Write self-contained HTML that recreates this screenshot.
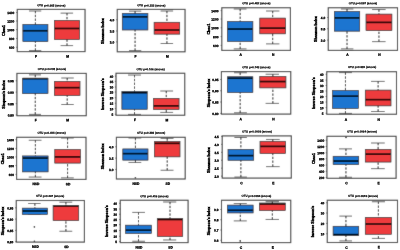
<!DOCTYPE html>
<html><head><meta charset="utf-8"><style>
html,body{margin:0;padding:0;background:#fff;width:400px;height:250px;overflow:hidden}
svg{display:block;will-change:transform}
text{font-family:"Liberation Sans", sans-serif;fill:#000}
</style></head><body>
<svg width="400" height="250" viewBox="0 0 400 250">
<defs><filter id="bl" x="0" y="0" width="400" height="250" filterUnits="userSpaceOnUse"><feConvolveMatrix order="3" kernelMatrix="0.015 0.065 0.015 0.065 0.68 0.065 0.015 0.065 0.015" edgeMode="duplicate"/></filter></defs>
<g filter="url(#bl)"><rect width="400" height="250" fill="#fff"/>
<line x1="35.39" y1="11.00" x2="35.39" y2="24.48" stroke="#000" stroke-width="0.9" stroke-dasharray="2.3 1.5"/>
<line x1="35.39" y1="50.60" x2="35.39" y2="41.59" stroke="#000" stroke-width="0.9" stroke-dasharray="2.3 1.5"/>
<line x1="29.00" y1="11.00" x2="41.25" y2="11.00" stroke="#000" stroke-width="0.6"/>
<line x1="29.00" y1="50.60" x2="41.25" y2="50.60" stroke="#000" stroke-width="0.6"/>
<rect x="22.88" y="24.48" width="25.03" height="17.11" fill="#1a74d0" stroke="#000" stroke-width="0.6"/>
<line x1="22.88" y1="30.75" x2="47.91" y2="30.75" stroke="#000" stroke-width="1.6"/>
<line x1="67.00" y1="13.13" x2="67.00" y2="20.38" stroke="#000" stroke-width="0.9" stroke-dasharray="2.3 1.5"/>
<line x1="67.00" y1="45.60" x2="67.00" y2="39.50" stroke="#000" stroke-width="0.9" stroke-dasharray="2.3 1.5"/>
<line x1="60.60" y1="13.13" x2="73.10" y2="13.13" stroke="#000" stroke-width="0.6"/>
<line x1="60.60" y1="45.60" x2="73.10" y2="45.60" stroke="#000" stroke-width="0.6"/>
<rect x="54.40" y="20.38" width="25.20" height="19.12" fill="#ee3b3e" stroke="#000" stroke-width="0.6"/>
<line x1="54.40" y1="28.48" x2="79.60" y2="28.48" stroke="#000" stroke-width="1.6"/>
<rect x="17.25" y="9.4" width="67.80" height="42.20" fill="none" stroke="#333" stroke-width="1.1"/>
<line x1="16.05" y1="12.5" x2="17.25" y2="12.5" stroke="#000" stroke-width="0.5"/>
<line x1="16.05" y1="21" x2="17.25" y2="21" stroke="#000" stroke-width="0.5"/>
<line x1="16.05" y1="29.6" x2="17.25" y2="29.6" stroke="#000" stroke-width="0.5"/>
<line x1="16.05" y1="38.5" x2="17.25" y2="38.5" stroke="#000" stroke-width="0.5"/>
<line x1="16.05" y1="47.25" x2="17.25" y2="47.25" stroke="#000" stroke-width="0.5"/>
<line x1="135.07" y1="11.15" x2="135.07" y2="13.29" stroke="#000" stroke-width="0.9" stroke-dasharray="2.3 1.5"/>
<line x1="135.07" y1="50.60" x2="135.07" y2="30.00" stroke="#000" stroke-width="0.9" stroke-dasharray="2.3 1.5"/>
<line x1="129.00" y1="11.15" x2="141.25" y2="11.15" stroke="#000" stroke-width="0.6"/>
<line x1="129.00" y1="50.60" x2="141.25" y2="50.60" stroke="#000" stroke-width="0.6"/>
<rect x="122.25" y="13.29" width="25.65" height="16.71" fill="#1a74d0" stroke="#000" stroke-width="0.6"/>
<line x1="122.25" y1="16.80" x2="147.90" y2="16.80" stroke="#000" stroke-width="1.6"/>
<line x1="166.93" y1="11.00" x2="166.93" y2="22.25" stroke="#000" stroke-width="0.9" stroke-dasharray="2.3 1.5"/>
<line x1="166.93" y1="43.50" x2="166.93" y2="34.13" stroke="#000" stroke-width="0.9" stroke-dasharray="2.3 1.5"/>
<line x1="160.60" y1="11.00" x2="173.10" y2="11.00" stroke="#000" stroke-width="0.6"/>
<line x1="160.60" y1="43.50" x2="173.10" y2="43.50" stroke="#000" stroke-width="0.6"/>
<rect x="154.10" y="22.25" width="25.65" height="11.88" fill="#ee3b3e" stroke="#000" stroke-width="0.6"/>
<line x1="154.10" y1="30.00" x2="179.75" y2="30.00" stroke="#000" stroke-width="1.6"/>
<rect x="117.25" y="9.4" width="67.80" height="42.40" fill="none" stroke="#333" stroke-width="1.1"/>
<line x1="116.05" y1="19.75" x2="117.25" y2="19.75" stroke="#000" stroke-width="0.5"/>
<line x1="116.05" y1="31" x2="117.25" y2="31" stroke="#000" stroke-width="0.5"/>
<line x1="116.05" y1="41.9" x2="117.25" y2="41.9" stroke="#000" stroke-width="0.5"/>
<line x1="240.17" y1="9.00" x2="240.17" y2="21.50" stroke="#000" stroke-width="0.9" stroke-dasharray="2.3 1.5"/>
<line x1="240.17" y1="48.88" x2="240.17" y2="41.38" stroke="#000" stroke-width="0.9" stroke-dasharray="2.3 1.5"/>
<line x1="233.75" y1="9.00" x2="246.50" y2="9.00" stroke="#000" stroke-width="0.6"/>
<line x1="233.75" y1="48.88" x2="246.50" y2="48.88" stroke="#000" stroke-width="0.6"/>
<rect x="227.46" y="21.50" width="25.42" height="19.88" fill="#1a74d0" stroke="#000" stroke-width="0.6"/>
<line x1="227.46" y1="29.06" x2="252.88" y2="29.06" stroke="#000" stroke-width="1.6"/>
<line x1="272.69" y1="11.00" x2="272.69" y2="18.10" stroke="#000" stroke-width="0.9" stroke-dasharray="2.3 1.5"/>
<line x1="272.69" y1="43.88" x2="272.69" y2="33.84" stroke="#000" stroke-width="0.9" stroke-dasharray="2.3 1.5"/>
<line x1="266.00" y1="11.00" x2="279.40" y2="11.00" stroke="#000" stroke-width="0.6"/>
<line x1="266.00" y1="43.88" x2="279.40" y2="43.88" stroke="#000" stroke-width="0.6"/>
<rect x="259.78" y="18.10" width="25.82" height="15.74" fill="#ee3b3e" stroke="#000" stroke-width="0.6"/>
<line x1="259.78" y1="28.13" x2="285.60" y2="28.13" stroke="#000" stroke-width="1.6"/>
<rect x="221.8" y="7.75" width="68.60" height="42.65" fill="none" stroke="#333" stroke-width="1.1"/>
<line x1="220.60" y1="10.6" x2="221.8" y2="10.6" stroke="#000" stroke-width="0.5"/>
<line x1="220.60" y1="19" x2="221.8" y2="19" stroke="#000" stroke-width="0.5"/>
<line x1="220.60" y1="27.75" x2="221.8" y2="27.75" stroke="#000" stroke-width="0.5"/>
<line x1="220.60" y1="36.6" x2="221.8" y2="36.6" stroke="#000" stroke-width="0.5"/>
<line x1="220.60" y1="45.4" x2="221.8" y2="45.4" stroke="#000" stroke-width="0.5"/>
<line x1="347.03" y1="9.02" x2="347.03" y2="11.52" stroke="#000" stroke-width="0.9" stroke-dasharray="2.3 1.5"/>
<line x1="347.03" y1="48.88" x2="347.03" y2="31.16" stroke="#000" stroke-width="0.9" stroke-dasharray="2.3 1.5"/>
<line x1="340.94" y1="9.02" x2="353.38" y2="9.02" stroke="#000" stroke-width="0.6"/>
<line x1="340.94" y1="48.88" x2="353.38" y2="48.88" stroke="#000" stroke-width="0.6"/>
<rect x="334.31" y="11.52" width="25.44" height="19.64" fill="#1a74d0" stroke="#000" stroke-width="0.6"/>
<line x1="334.31" y1="17.88" x2="359.75" y2="17.88" stroke="#000" stroke-width="1.6"/>
<line x1="378.95" y1="9.56" x2="378.95" y2="14.10" stroke="#000" stroke-width="0.9" stroke-dasharray="2.3 1.5"/>
<line x1="378.95" y1="41.63" x2="378.95" y2="30.63" stroke="#000" stroke-width="0.9" stroke-dasharray="2.3 1.5"/>
<line x1="372.00" y1="9.56" x2="385.60" y2="9.56" stroke="#000" stroke-width="0.6"/>
<line x1="372.00" y1="41.63" x2="385.60" y2="41.63" stroke="#000" stroke-width="0.6"/>
<rect x="366.00" y="14.10" width="25.90" height="16.53" fill="#ee3b3e" stroke="#000" stroke-width="0.6"/>
<line x1="366.00" y1="22.40" x2="391.90" y2="22.40" stroke="#000" stroke-width="1.6"/>
<rect x="328.25" y="7.75" width="69.25" height="42.65" fill="none" stroke="#333" stroke-width="1.1"/>
<line x1="327.05" y1="17.5" x2="328.25" y2="17.5" stroke="#000" stroke-width="0.5"/>
<line x1="327.05" y1="28.75" x2="328.25" y2="28.75" stroke="#000" stroke-width="0.5"/>
<line x1="327.05" y1="40.1" x2="328.25" y2="40.1" stroke="#000" stroke-width="0.5"/>
<line x1="35.25" y1="74.88" x2="35.25" y2="78.38" stroke="#000" stroke-width="0.9" stroke-dasharray="2.3 1.5"/>
<line x1="35.25" y1="114.38" x2="35.25" y2="93.62" stroke="#000" stroke-width="0.9" stroke-dasharray="2.3 1.5"/>
<line x1="29.00" y1="74.88" x2="41.00" y2="74.88" stroke="#000" stroke-width="0.6"/>
<line x1="29.00" y1="114.38" x2="41.00" y2="114.38" stroke="#000" stroke-width="0.6"/>
<rect x="22.50" y="78.38" width="25.50" height="15.24" fill="#1a74d0" stroke="#000" stroke-width="0.6"/>
<line x1="22.50" y1="78.60" x2="48.00" y2="78.60" stroke="#000" stroke-width="1.6"/>
<line x1="67.20" y1="78.00" x2="67.20" y2="81.40" stroke="#000" stroke-width="0.9" stroke-dasharray="2.3 1.5"/>
<line x1="67.20" y1="104.50" x2="67.20" y2="95.50" stroke="#000" stroke-width="0.9" stroke-dasharray="2.3 1.5"/>
<line x1="61.25" y1="78.00" x2="73.75" y2="78.00" stroke="#000" stroke-width="0.6"/>
<line x1="61.25" y1="104.50" x2="73.75" y2="104.50" stroke="#000" stroke-width="0.6"/>
<rect x="54.40" y="81.40" width="25.60" height="14.10" fill="#ee3b3e" stroke="#000" stroke-width="0.6"/>
<line x1="54.40" y1="87.63" x2="80.00" y2="87.63" stroke="#000" stroke-width="1.6"/>
<rect x="16.9" y="73.4" width="69.35" height="42.30" fill="none" stroke="#333" stroke-width="1.1"/>
<line x1="15.70" y1="80.75" x2="16.9" y2="80.75" stroke="#000" stroke-width="0.5"/>
<line x1="15.70" y1="92.1" x2="16.9" y2="92.1" stroke="#000" stroke-width="0.5"/>
<line x1="15.70" y1="103.6" x2="16.9" y2="103.6" stroke="#000" stroke-width="0.5"/>
<line x1="15.70" y1="114.9" x2="16.9" y2="114.9" stroke="#000" stroke-width="0.5"/>
<line x1="134.53" y1="75.06" x2="134.53" y2="91.38" stroke="#000" stroke-width="0.9" stroke-dasharray="2.3 1.5"/>
<line x1="134.53" y1="114.38" x2="134.53" y2="109.25" stroke="#000" stroke-width="0.9" stroke-dasharray="2.3 1.5"/>
<line x1="128.00" y1="75.06" x2="141.00" y2="75.06" stroke="#000" stroke-width="0.6"/>
<line x1="128.00" y1="114.38" x2="141.00" y2="114.38" stroke="#000" stroke-width="0.6"/>
<rect x="121.88" y="91.38" width="25.31" height="17.87" fill="#1a74d0" stroke="#000" stroke-width="0.6"/>
<line x1="121.88" y1="92.69" x2="147.19" y2="92.69" stroke="#000" stroke-width="1.6"/>
<line x1="166.26" y1="91.00" x2="166.26" y2="98.40" stroke="#000" stroke-width="0.9" stroke-dasharray="2.3 1.5"/>
<line x1="166.26" y1="112.40" x2="166.26" y2="109.52" stroke="#000" stroke-width="0.9" stroke-dasharray="2.3 1.5"/>
<line x1="160.25" y1="91.00" x2="173.10" y2="91.00" stroke="#000" stroke-width="0.6"/>
<line x1="160.25" y1="112.40" x2="173.10" y2="112.40" stroke="#000" stroke-width="0.6"/>
<rect x="153.48" y="98.40" width="25.56" height="11.12" fill="#ee3b3e" stroke="#000" stroke-width="0.6"/>
<line x1="153.48" y1="105.88" x2="179.04" y2="105.88" stroke="#000" stroke-width="1.6"/>
<rect x="116.0" y="73.25" width="68.75" height="42.00" fill="none" stroke="#333" stroke-width="1.1"/>
<line x1="114.80" y1="76.1" x2="116.0" y2="76.1" stroke="#000" stroke-width="0.5"/>
<line x1="114.80" y1="81.4" x2="116.0" y2="81.4" stroke="#000" stroke-width="0.5"/>
<line x1="114.80" y1="87" x2="116.0" y2="87" stroke="#000" stroke-width="0.5"/>
<line x1="114.80" y1="92" x2="116.0" y2="92" stroke="#000" stroke-width="0.5"/>
<line x1="114.80" y1="97.75" x2="116.0" y2="97.75" stroke="#000" stroke-width="0.5"/>
<line x1="114.80" y1="103.25" x2="116.0" y2="103.25" stroke="#000" stroke-width="0.5"/>
<line x1="114.80" y1="108.6" x2="116.0" y2="108.6" stroke="#000" stroke-width="0.5"/>
<line x1="114.80" y1="114.25" x2="116.0" y2="114.25" stroke="#000" stroke-width="0.5"/>
<line x1="240.17" y1="72.75" x2="240.17" y2="76.75" stroke="#000" stroke-width="0.9" stroke-dasharray="2.3 1.5"/>
<line x1="240.17" y1="112.78" x2="240.17" y2="92.50" stroke="#000" stroke-width="0.9" stroke-dasharray="2.3 1.5"/>
<line x1="234.00" y1="72.75" x2="246.90" y2="72.75" stroke="#000" stroke-width="0.6"/>
<line x1="234.00" y1="112.78" x2="246.90" y2="112.78" stroke="#000" stroke-width="0.6"/>
<rect x="227.46" y="76.75" width="25.42" height="15.75" fill="#1a74d0" stroke="#000" stroke-width="0.6"/>
<line x1="227.46" y1="78.25" x2="252.88" y2="78.25" stroke="#000" stroke-width="1.6"/>
<line x1="272.86" y1="74.25" x2="272.86" y2="76.40" stroke="#000" stroke-width="0.9" stroke-dasharray="2.3 1.5"/>
<line x1="272.86" y1="103.38" x2="272.86" y2="87.90" stroke="#000" stroke-width="0.9" stroke-dasharray="2.3 1.5"/>
<line x1="265.60" y1="74.25" x2="279.00" y2="74.25" stroke="#000" stroke-width="0.6"/>
<line x1="265.60" y1="103.38" x2="279.00" y2="103.38" stroke="#000" stroke-width="0.6"/>
<rect x="259.78" y="76.40" width="26.16" height="11.50" fill="#ee3b3e" stroke="#000" stroke-width="0.6"/>
<line x1="259.78" y1="81.56" x2="285.94" y2="81.56" stroke="#000" stroke-width="1.6"/>
<rect x="221.4" y="71.6" width="69.35" height="42.50" fill="none" stroke="#333" stroke-width="1.1"/>
<line x1="220.20" y1="79.5" x2="221.4" y2="79.5" stroke="#000" stroke-width="0.5"/>
<line x1="220.20" y1="90.75" x2="221.4" y2="90.75" stroke="#000" stroke-width="0.5"/>
<line x1="220.20" y1="102" x2="221.4" y2="102" stroke="#000" stroke-width="0.5"/>
<line x1="220.20" y1="113.4" x2="221.4" y2="113.4" stroke="#000" stroke-width="0.5"/>
<line x1="345.44" y1="72.62" x2="345.44" y2="90.62" stroke="#000" stroke-width="0.9" stroke-dasharray="2.3 1.5"/>
<line x1="345.44" y1="113.38" x2="345.44" y2="108.40" stroke="#000" stroke-width="0.9" stroke-dasharray="2.3 1.5"/>
<line x1="339.00" y1="72.62" x2="352.00" y2="72.62" stroke="#000" stroke-width="0.6"/>
<line x1="339.00" y1="113.38" x2="352.00" y2="113.38" stroke="#000" stroke-width="0.6"/>
<rect x="332.50" y="90.62" width="25.87" height="17.78" fill="#1a74d0" stroke="#000" stroke-width="0.6"/>
<line x1="332.50" y1="96.16" x2="358.37" y2="96.16" stroke="#000" stroke-width="1.6"/>
<line x1="378.12" y1="81.38" x2="378.12" y2="90.10" stroke="#000" stroke-width="0.9" stroke-dasharray="2.3 1.5"/>
<line x1="378.12" y1="111.50" x2="378.12" y2="105.88" stroke="#000" stroke-width="0.9" stroke-dasharray="2.3 1.5"/>
<line x1="371.00" y1="81.38" x2="384.75" y2="81.38" stroke="#000" stroke-width="0.6"/>
<line x1="371.00" y1="111.50" x2="384.75" y2="111.50" stroke="#000" stroke-width="0.6"/>
<rect x="365.25" y="90.10" width="25.75" height="15.78" fill="#ee3b3e" stroke="#000" stroke-width="0.6"/>
<line x1="365.25" y1="99.63" x2="391.00" y2="99.63" stroke="#000" stroke-width="1.6"/>
<rect x="326.75" y="71.7" width="69.75" height="42.55" fill="none" stroke="#333" stroke-width="1.1"/>
<line x1="325.55" y1="74.25" x2="326.75" y2="74.25" stroke="#000" stroke-width="0.5"/>
<line x1="325.55" y1="80.1" x2="326.75" y2="80.1" stroke="#000" stroke-width="0.5"/>
<line x1="325.55" y1="85.5" x2="326.75" y2="85.5" stroke="#000" stroke-width="0.5"/>
<line x1="325.55" y1="91" x2="326.75" y2="91" stroke="#000" stroke-width="0.5"/>
<line x1="325.55" y1="96.5" x2="326.75" y2="96.5" stroke="#000" stroke-width="0.5"/>
<line x1="325.55" y1="102" x2="326.75" y2="102" stroke="#000" stroke-width="0.5"/>
<line x1="325.55" y1="107.6" x2="326.75" y2="107.6" stroke="#000" stroke-width="0.5"/>
<line x1="325.55" y1="113.25" x2="326.75" y2="113.25" stroke="#000" stroke-width="0.5"/>
<line x1="35.37" y1="140.25" x2="35.37" y2="155.94" stroke="#000" stroke-width="0.9" stroke-dasharray="2.3 1.5"/>
<line x1="35.37" y1="177.06" x2="35.37" y2="171.89" stroke="#000" stroke-width="0.9" stroke-dasharray="2.3 1.5"/>
<line x1="28.75" y1="140.25" x2="41.50" y2="140.25" stroke="#000" stroke-width="0.6"/>
<line x1="28.75" y1="177.06" x2="41.50" y2="177.06" stroke="#000" stroke-width="0.6"/>
<rect x="22.63" y="155.94" width="25.47" height="15.95" fill="#1a74d0" stroke="#000" stroke-width="0.6"/>
<line x1="22.63" y1="158.13" x2="48.10" y2="158.13" stroke="#000" stroke-width="1.6"/>
<line x1="67.58" y1="138.02" x2="67.58" y2="149.60" stroke="#000" stroke-width="0.9" stroke-dasharray="2.3 1.5"/>
<line x1="67.58" y1="177.88" x2="67.58" y2="163.10" stroke="#000" stroke-width="0.9" stroke-dasharray="2.3 1.5"/>
<line x1="61.00" y1="138.02" x2="73.75" y2="138.02" stroke="#000" stroke-width="0.6"/>
<line x1="61.00" y1="177.88" x2="73.75" y2="177.88" stroke="#000" stroke-width="0.6"/>
<rect x="54.78" y="149.60" width="25.60" height="13.50" fill="#ee3b3e" stroke="#000" stroke-width="0.6"/>
<line x1="54.78" y1="156.90" x2="80.38" y2="156.90" stroke="#000" stroke-width="1.6"/>
<rect x="16.6" y="137.3" width="69.40" height="42.10" fill="none" stroke="#333" stroke-width="1.1"/>
<line x1="15.40" y1="139.6" x2="16.6" y2="139.6" stroke="#000" stroke-width="0.5"/>
<line x1="15.40" y1="148.4" x2="16.6" y2="148.4" stroke="#000" stroke-width="0.5"/>
<line x1="15.40" y1="156.9" x2="16.6" y2="156.9" stroke="#000" stroke-width="0.5"/>
<line x1="15.40" y1="165.6" x2="16.6" y2="165.6" stroke="#000" stroke-width="0.5"/>
<line x1="15.40" y1="174.4" x2="16.6" y2="174.4" stroke="#000" stroke-width="0.5"/>
<line x1="135.41" y1="138.00" x2="135.41" y2="148.94" stroke="#000" stroke-width="0.9" stroke-dasharray="2.3 1.5"/>
<line x1="135.41" y1="162.46" x2="135.41" y2="160.13" stroke="#000" stroke-width="0.9" stroke-dasharray="2.3 1.5"/>
<line x1="128.50" y1="138.00" x2="141.25" y2="138.00" stroke="#000" stroke-width="0.6"/>
<line x1="128.50" y1="162.46" x2="141.25" y2="162.46" stroke="#000" stroke-width="0.6"/>
<rect x="122.81" y="148.94" width="25.19" height="11.19" fill="#1a74d0" stroke="#000" stroke-width="0.6"/>
<line x1="122.81" y1="153.63" x2="148.00" y2="153.63" stroke="#000" stroke-width="1.6"/>
<line x1="167.20" y1="138.40" x2="167.20" y2="141.50" stroke="#000" stroke-width="0.9" stroke-dasharray="2.3 1.5"/>
<line x1="167.20" y1="170.25" x2="167.20" y2="156.88" stroke="#000" stroke-width="0.9" stroke-dasharray="2.3 1.5"/>
<line x1="160.60" y1="138.40" x2="173.50" y2="138.40" stroke="#000" stroke-width="0.6"/>
<line x1="160.60" y1="170.25" x2="173.50" y2="170.25" stroke="#000" stroke-width="0.6"/>
<rect x="154.40" y="141.50" width="25.60" height="15.38" fill="#ee3b3e" stroke="#000" stroke-width="0.6"/>
<line x1="154.40" y1="143.38" x2="180.00" y2="143.38" stroke="#000" stroke-width="1.6"/>
<circle cx="135.4" cy="177.75" r="0.8" fill="#000"/>
<rect x="116.4" y="137.3" width="68.80" height="41.70" fill="none" stroke="#333" stroke-width="1.1"/>
<line x1="115.20" y1="146.75" x2="116.4" y2="146.75" stroke="#000" stroke-width="0.5"/>
<line x1="115.20" y1="158.1" x2="116.4" y2="158.1" stroke="#000" stroke-width="0.5"/>
<line x1="115.20" y1="169.4" x2="116.4" y2="169.4" stroke="#000" stroke-width="0.5"/>
<line x1="240.88" y1="137.50" x2="240.88" y2="149.40" stroke="#000" stroke-width="0.9" stroke-dasharray="2.3 1.5"/>
<line x1="240.88" y1="177.06" x2="240.88" y2="160.25" stroke="#000" stroke-width="0.9" stroke-dasharray="2.3 1.5"/>
<line x1="234.40" y1="137.50" x2="246.90" y2="137.50" stroke="#000" stroke-width="0.6"/>
<line x1="234.40" y1="177.06" x2="246.90" y2="177.06" stroke="#000" stroke-width="0.6"/>
<rect x="228.00" y="149.40" width="25.75" height="10.85" fill="#1a74d0" stroke="#000" stroke-width="0.6"/>
<line x1="228.00" y1="155.60" x2="253.75" y2="155.60" stroke="#000" stroke-width="1.6"/>
<line x1="272.80" y1="139.44" x2="272.80" y2="141.25" stroke="#000" stroke-width="0.9" stroke-dasharray="2.3 1.5"/>
<line x1="272.80" y1="166.63" x2="272.80" y2="153.48" stroke="#000" stroke-width="0.9" stroke-dasharray="2.3 1.5"/>
<line x1="266.00" y1="139.44" x2="279.70" y2="139.44" stroke="#000" stroke-width="0.6"/>
<line x1="266.00" y1="166.63" x2="279.70" y2="166.63" stroke="#000" stroke-width="0.6"/>
<rect x="260.00" y="141.25" width="25.60" height="12.23" fill="#ee3b3e" stroke="#000" stroke-width="0.6"/>
<line x1="260.00" y1="146.40" x2="285.60" y2="146.40" stroke="#000" stroke-width="1.6"/>
<rect x="222.2" y="135.9" width="69.10" height="42.20" fill="none" stroke="#333" stroke-width="1.1"/>
<line x1="221.00" y1="136.4" x2="222.2" y2="136.4" stroke="#000" stroke-width="0.5"/>
<line x1="221.00" y1="144.35" x2="222.2" y2="144.35" stroke="#000" stroke-width="0.5"/>
<line x1="221.00" y1="152.3" x2="222.2" y2="152.3" stroke="#000" stroke-width="0.5"/>
<line x1="221.00" y1="160.25" x2="222.2" y2="160.25" stroke="#000" stroke-width="0.5"/>
<line x1="221.00" y1="168.2" x2="222.2" y2="168.2" stroke="#000" stroke-width="0.5"/>
<line x1="221.00" y1="176.15" x2="222.2" y2="176.15" stroke="#000" stroke-width="0.5"/>
<line x1="345.94" y1="148.88" x2="345.94" y2="156.25" stroke="#000" stroke-width="0.9" stroke-dasharray="2.3 1.5"/>
<line x1="345.94" y1="177.25" x2="345.94" y2="164.59" stroke="#000" stroke-width="0.9" stroke-dasharray="2.3 1.5"/>
<line x1="339.00" y1="148.88" x2="352.00" y2="148.88" stroke="#000" stroke-width="0.6"/>
<line x1="339.00" y1="177.25" x2="352.00" y2="177.25" stroke="#000" stroke-width="0.6"/>
<rect x="333.13" y="156.25" width="25.62" height="8.34" fill="#1a74d0" stroke="#000" stroke-width="0.6"/>
<line x1="333.13" y1="161.06" x2="358.75" y2="161.06" stroke="#000" stroke-width="1.6"/>
<line x1="378.12" y1="143.00" x2="378.12" y2="149.40" stroke="#000" stroke-width="0.9" stroke-dasharray="2.3 1.5"/>
<line x1="378.12" y1="168.66" x2="378.12" y2="162.06" stroke="#000" stroke-width="0.9" stroke-dasharray="2.3 1.5"/>
<line x1="371.00" y1="143.00" x2="384.75" y2="143.00" stroke="#000" stroke-width="0.6"/>
<line x1="371.00" y1="168.66" x2="384.75" y2="168.66" stroke="#000" stroke-width="0.6"/>
<rect x="365.25" y="149.40" width="25.75" height="12.66" fill="#ee3b3e" stroke="#000" stroke-width="0.6"/>
<line x1="365.25" y1="154.13" x2="391.00" y2="154.13" stroke="#000" stroke-width="1.6"/>
<circle cx="346" cy="137.5" r="0.8" fill="#000"/>
<rect x="326.9" y="136.3" width="69.20" height="42.00" fill="none" stroke="#333" stroke-width="1.1"/>
<line x1="325.70" y1="140.25" x2="326.9" y2="140.25" stroke="#000" stroke-width="0.5"/>
<line x1="325.70" y1="146.5" x2="326.9" y2="146.5" stroke="#000" stroke-width="0.5"/>
<line x1="325.70" y1="152.75" x2="326.9" y2="152.75" stroke="#000" stroke-width="0.5"/>
<line x1="325.70" y1="158.75" x2="326.9" y2="158.75" stroke="#000" stroke-width="0.5"/>
<line x1="325.70" y1="165" x2="326.9" y2="165" stroke="#000" stroke-width="0.5"/>
<line x1="325.70" y1="171.25" x2="326.9" y2="171.25" stroke="#000" stroke-width="0.5"/>
<line x1="325.70" y1="177.5" x2="326.9" y2="177.5" stroke="#000" stroke-width="0.5"/>
<line x1="34.88" y1="203.50" x2="34.88" y2="208.13" stroke="#000" stroke-width="0.9" stroke-dasharray="2.3 1.5"/>
<line x1="34.88" y1="214.40" x2="34.88" y2="214.40" stroke="#000" stroke-width="0.9" stroke-dasharray="2.3 1.5"/>
<line x1="28.10" y1="203.50" x2="40.60" y2="203.50" stroke="#000" stroke-width="0.6"/>
<line x1="28.10" y1="214.40" x2="40.60" y2="214.40" stroke="#000" stroke-width="0.6"/>
<rect x="22.25" y="208.13" width="25.25" height="6.27" fill="#1a74d0" stroke="#000" stroke-width="0.6"/>
<line x1="22.25" y1="210.98" x2="47.50" y2="210.98" stroke="#000" stroke-width="1.6"/>
<line x1="65.92" y1="202.19" x2="65.92" y2="205.50" stroke="#000" stroke-width="0.9" stroke-dasharray="2.3 1.5"/>
<line x1="65.92" y1="231.25" x2="65.92" y2="220.50" stroke="#000" stroke-width="0.9" stroke-dasharray="2.3 1.5"/>
<line x1="59.40" y1="202.19" x2="72.25" y2="202.19" stroke="#000" stroke-width="0.6"/>
<line x1="59.40" y1="231.25" x2="72.25" y2="231.25" stroke="#000" stroke-width="0.6"/>
<rect x="53.10" y="205.50" width="25.65" height="15.00" fill="#ee3b3e" stroke="#000" stroke-width="0.6"/>
<line x1="53.10" y1="206.00" x2="78.75" y2="206.00" stroke="#000" stroke-width="1.6"/>
<circle cx="34.4" cy="226.9" r="0.8" fill="#000"/>
<circle cx="34.4" cy="241.25" r="0.8" fill="#000"/>
<rect x="16.25" y="200.5" width="68.15" height="41.60" fill="none" stroke="#333" stroke-width="1.1"/>
<line x1="15.05" y1="207.8" x2="16.25" y2="207.8" stroke="#000" stroke-width="0.5"/>
<line x1="15.05" y1="219.1" x2="16.25" y2="219.1" stroke="#000" stroke-width="0.5"/>
<line x1="15.05" y1="230.4" x2="16.25" y2="230.4" stroke="#000" stroke-width="0.5"/>
<line x1="15.05" y1="241.7" x2="16.25" y2="241.7" stroke="#000" stroke-width="0.5"/>
<line x1="138.49" y1="212.40" x2="138.49" y2="225.16" stroke="#000" stroke-width="0.9" stroke-dasharray="2.3 1.5"/>
<line x1="138.49" y1="241.25" x2="138.49" y2="233.40" stroke="#000" stroke-width="0.9" stroke-dasharray="2.3 1.5"/>
<line x1="132.25" y1="212.40" x2="145.00" y2="212.40" stroke="#000" stroke-width="0.6"/>
<line x1="132.25" y1="241.25" x2="145.00" y2="241.25" stroke="#000" stroke-width="0.6"/>
<rect x="125.60" y="225.16" width="25.78" height="8.24" fill="#1a74d0" stroke="#000" stroke-width="0.6"/>
<line x1="125.60" y1="230.19" x2="151.38" y2="230.19" stroke="#000" stroke-width="1.6"/>
<line x1="170.00" y1="202.00" x2="170.00" y2="218.44" stroke="#000" stroke-width="0.9" stroke-dasharray="2.3 1.5"/>
<line x1="170.00" y1="239.98" x2="170.00" y2="236.50" stroke="#000" stroke-width="0.9" stroke-dasharray="2.3 1.5"/>
<line x1="163.10" y1="202.00" x2="176.25" y2="202.00" stroke="#000" stroke-width="0.6"/>
<line x1="163.10" y1="239.98" x2="176.25" y2="239.98" stroke="#000" stroke-width="0.6"/>
<rect x="157.25" y="218.44" width="25.50" height="18.06" fill="#ee3b3e" stroke="#000" stroke-width="0.6"/>
<line x1="157.25" y1="219.50" x2="182.75" y2="219.50" stroke="#000" stroke-width="1.6"/>
<rect x="120.25" y="200.25" width="67.85" height="42.35" fill="none" stroke="#333" stroke-width="1.1"/>
<line x1="119.05" y1="203.25" x2="120.25" y2="203.25" stroke="#000" stroke-width="0.5"/>
<line x1="119.05" y1="209" x2="120.25" y2="209" stroke="#000" stroke-width="0.5"/>
<line x1="119.05" y1="214.25" x2="120.25" y2="214.25" stroke="#000" stroke-width="0.5"/>
<line x1="119.05" y1="219.5" x2="120.25" y2="219.5" stroke="#000" stroke-width="0.5"/>
<line x1="119.05" y1="224.6" x2="120.25" y2="224.6" stroke="#000" stroke-width="0.5"/>
<line x1="119.05" y1="230.5" x2="120.25" y2="230.5" stroke="#000" stroke-width="0.5"/>
<line x1="119.05" y1="236.25" x2="120.25" y2="236.25" stroke="#000" stroke-width="0.5"/>
<line x1="119.05" y1="241.5" x2="120.25" y2="241.5" stroke="#000" stroke-width="0.5"/>
<line x1="240.30" y1="203.56" x2="240.30" y2="205.09" stroke="#000" stroke-width="0.9" stroke-dasharray="2.3 1.5"/>
<line x1="240.30" y1="220.90" x2="240.30" y2="212.94" stroke="#000" stroke-width="0.9" stroke-dasharray="2.3 1.5"/>
<line x1="233.75" y1="203.56" x2="246.75" y2="203.56" stroke="#000" stroke-width="0.6"/>
<line x1="233.75" y1="220.90" x2="246.75" y2="220.90" stroke="#000" stroke-width="0.6"/>
<rect x="227.46" y="205.09" width="25.67" height="7.85" fill="#1a74d0" stroke="#000" stroke-width="0.6"/>
<line x1="227.46" y1="210.28" x2="253.13" y2="210.28" stroke="#000" stroke-width="1.6"/>
<line x1="272.32" y1="201.69" x2="272.32" y2="203.00" stroke="#000" stroke-width="0.9" stroke-dasharray="2.3 1.5"/>
<line x1="272.32" y1="219.44" x2="272.32" y2="210.50" stroke="#000" stroke-width="0.9" stroke-dasharray="2.3 1.5"/>
<line x1="265.60" y1="201.69" x2="279.00" y2="201.69" stroke="#000" stroke-width="0.6"/>
<line x1="265.60" y1="219.44" x2="279.00" y2="219.44" stroke="#000" stroke-width="0.6"/>
<rect x="259.40" y="203.00" width="25.85" height="7.50" fill="#ee3b3e" stroke="#000" stroke-width="0.6"/>
<line x1="259.40" y1="204.00" x2="285.25" y2="204.00" stroke="#000" stroke-width="1.6"/>
<circle cx="240.25" cy="240.9" r="0.8" fill="#000"/>
<rect x="221.5" y="200.25" width="69.25" height="42.35" fill="none" stroke="#333" stroke-width="1.1"/>
<line x1="220.30" y1="209.5" x2="221.5" y2="209.5" stroke="#000" stroke-width="0.5"/>
<line x1="220.30" y1="219.75" x2="221.5" y2="219.75" stroke="#000" stroke-width="0.5"/>
<line x1="220.30" y1="230" x2="221.5" y2="230" stroke="#000" stroke-width="0.5"/>
<line x1="220.30" y1="240.25" x2="221.5" y2="240.25" stroke="#000" stroke-width="0.5"/>
<line x1="345.93" y1="216.10" x2="345.93" y2="226.25" stroke="#000" stroke-width="0.9" stroke-dasharray="2.3 1.5"/>
<line x1="345.93" y1="240.90" x2="345.93" y2="235.60" stroke="#000" stroke-width="0.9" stroke-dasharray="2.3 1.5"/>
<line x1="339.40" y1="216.10" x2="352.00" y2="216.10" stroke="#000" stroke-width="0.6"/>
<line x1="339.40" y1="240.90" x2="352.00" y2="240.90" stroke="#000" stroke-width="0.6"/>
<rect x="333.10" y="226.25" width="25.65" height="9.35" fill="#1a74d0" stroke="#000" stroke-width="0.6"/>
<line x1="333.10" y1="234.60" x2="358.75" y2="234.60" stroke="#000" stroke-width="1.6"/>
<line x1="378.38" y1="201.75" x2="378.38" y2="217.40" stroke="#000" stroke-width="0.9" stroke-dasharray="2.3 1.5"/>
<line x1="378.38" y1="238.40" x2="378.38" y2="234.25" stroke="#000" stroke-width="0.9" stroke-dasharray="2.3 1.5"/>
<line x1="371.90" y1="201.75" x2="385.00" y2="201.75" stroke="#000" stroke-width="0.6"/>
<line x1="371.90" y1="238.40" x2="385.00" y2="238.40" stroke="#000" stroke-width="0.6"/>
<rect x="365.25" y="217.40" width="26.25" height="16.85" fill="#ee3b3e" stroke="#000" stroke-width="0.6"/>
<line x1="365.25" y1="224.00" x2="391.50" y2="224.00" stroke="#000" stroke-width="1.6"/>
<rect x="327.25" y="200.25" width="70.25" height="42.25" fill="none" stroke="#333" stroke-width="1.1"/>
<line x1="326.05" y1="202.75" x2="327.25" y2="202.75" stroke="#000" stroke-width="0.5"/>
<line x1="326.05" y1="213" x2="327.25" y2="213" stroke="#000" stroke-width="0.5"/>
<line x1="326.05" y1="223.4" x2="327.25" y2="223.4" stroke="#000" stroke-width="0.5"/>
<line x1="326.05" y1="233.75" x2="327.25" y2="233.75" stroke="#000" stroke-width="0.5"/>

</g>
<text x="14.30" y="14.12" font-size="3.2" text-anchor="end" font-weight="bold" stroke="#000" stroke-width="0.3" transform="rotate(0.1 14.30 13.00)">1400</text>
<text x="14.30" y="22.62" font-size="3.2" text-anchor="end" font-weight="bold" stroke="#000" stroke-width="0.3" transform="rotate(0.1 14.30 21.50)">1200</text>
<text x="14.30" y="31.22" font-size="3.2" text-anchor="end" font-weight="bold" stroke="#000" stroke-width="0.3" transform="rotate(0.1 14.30 30.10)">1000</text>
<text x="14.30" y="40.12" font-size="3.2" text-anchor="end" font-weight="bold" stroke="#000" stroke-width="0.3" transform="rotate(0.1 14.30 39.00)">800</text>
<text x="14.30" y="48.87" font-size="3.2" text-anchor="end" font-weight="bold" stroke="#000" stroke-width="0.3" transform="rotate(0.1 14.30 47.75)">600</text>
<text x="35.94" y="57.45" font-size="3.3" text-anchor="middle" font-weight="bold" stroke="#000" stroke-width="0.3" transform="rotate(0.1 35.94 56.30)">F</text>
<text x="67.55" y="57.45" font-size="3.3" text-anchor="middle" font-weight="bold" stroke="#000" stroke-width="0.3" transform="rotate(0.1 67.55 56.30)">M</text>
<text x="51.25" y="6.40" font-size="2.85" text-anchor="middle" font-weight="bold" stroke="#000" stroke-width="0.2" transform="rotate(0.1 51.25 5.40)">OTU p=0.665 (anova)</text>
<text x="3.90" y="31.66" font-size="3.6" text-anchor="middle" font-weight="bold" stroke="#000" stroke-width="0.35" transform="rotate(-90 3.90 30.40)">Chao1</text>
<text x="114.20" y="21.37" font-size="3.2" text-anchor="end" font-weight="bold" stroke="#000" stroke-width="0.3" transform="rotate(0.1 114.20 20.25)">4.0</text>
<text x="114.20" y="32.62" font-size="3.2" text-anchor="end" font-weight="bold" stroke="#000" stroke-width="0.3" transform="rotate(0.1 114.20 31.50)">3.5</text>
<text x="114.20" y="43.52" font-size="3.2" text-anchor="end" font-weight="bold" stroke="#000" stroke-width="0.3" transform="rotate(0.1 114.20 42.40)">3.0</text>
<text x="135.62" y="57.45" font-size="3.3" text-anchor="middle" font-weight="bold" stroke="#000" stroke-width="0.3" transform="rotate(0.1 135.62 56.30)">F</text>
<text x="167.48" y="57.45" font-size="3.3" text-anchor="middle" font-weight="bold" stroke="#000" stroke-width="0.3" transform="rotate(0.1 167.48 56.30)">M</text>
<text x="151.25" y="6.40" font-size="2.85" text-anchor="middle" font-weight="bold" stroke="#000" stroke-width="0.2" transform="rotate(0.1 151.25 5.40)">OTU p=0.333 (anova)</text>
<text x="103.10" y="32.26" font-size="3.6" text-anchor="middle" font-weight="bold" stroke="#000" stroke-width="0.35" transform="rotate(-90 103.10 31.00)">Shannon Index</text>
<text x="218.45" y="12.22" font-size="3.2" text-anchor="end" font-weight="bold" stroke="#000" stroke-width="0.3" transform="rotate(0.1 218.45 11.10)">1400</text>
<text x="218.45" y="20.62" font-size="3.2" text-anchor="end" font-weight="bold" stroke="#000" stroke-width="0.3" transform="rotate(0.1 218.45 19.50)">1200</text>
<text x="218.45" y="29.37" font-size="3.2" text-anchor="end" font-weight="bold" stroke="#000" stroke-width="0.3" transform="rotate(0.1 218.45 28.25)">1000</text>
<text x="218.45" y="38.22" font-size="3.2" text-anchor="end" font-weight="bold" stroke="#000" stroke-width="0.3" transform="rotate(0.1 218.45 37.10)">800</text>
<text x="218.45" y="47.02" font-size="3.2" text-anchor="end" font-weight="bold" stroke="#000" stroke-width="0.3" transform="rotate(0.1 218.45 45.90)">600</text>
<text x="240.72" y="55.76" font-size="3.3" text-anchor="middle" font-weight="bold" stroke="#000" stroke-width="0.3" transform="rotate(0.1 240.72 54.60)">A</text>
<text x="273.24" y="55.76" font-size="3.3" text-anchor="middle" font-weight="bold" stroke="#000" stroke-width="0.3" transform="rotate(0.1 273.24 54.60)">N</text>
<text x="256.25" y="4.20" font-size="2.85" text-anchor="middle" font-weight="bold" stroke="#000" stroke-width="0.2" transform="rotate(0.1 256.25 3.20)">OTU p=0.452 (anova)</text>
<text x="208.60" y="30.26" font-size="3.6" text-anchor="middle" font-weight="bold" stroke="#000" stroke-width="0.35" transform="rotate(-90 208.60 29.00)">Chao1</text>
<text x="325.30" y="19.12" font-size="3.2" text-anchor="end" font-weight="bold" stroke="#000" stroke-width="0.3" transform="rotate(0.1 325.30 18.00)">4.0</text>
<text x="325.30" y="30.37" font-size="3.2" text-anchor="end" font-weight="bold" stroke="#000" stroke-width="0.3" transform="rotate(0.1 325.30 29.25)">3.5</text>
<text x="325.30" y="41.72" font-size="3.2" text-anchor="end" font-weight="bold" stroke="#000" stroke-width="0.3" transform="rotate(0.1 325.30 40.60)">3.0</text>
<text x="347.58" y="55.76" font-size="3.3" text-anchor="middle" font-weight="bold" stroke="#000" stroke-width="0.3" transform="rotate(0.1 347.58 54.60)">A</text>
<text x="379.50" y="55.76" font-size="3.3" text-anchor="middle" font-weight="bold" stroke="#000" stroke-width="0.3" transform="rotate(0.1 379.50 54.60)">N</text>
<text x="362.90" y="4.20" font-size="2.85" text-anchor="middle" font-weight="bold" stroke="#000" stroke-width="0.2" transform="rotate(0.1 362.90 3.20)">OTU p=0.597 (anova)</text>
<text x="315.25" y="30.26" font-size="3.6" text-anchor="middle" font-weight="bold" stroke="#000" stroke-width="0.35" transform="rotate(-90 315.25 29.00)">Shannon Index</text>
<text x="13.90" y="82.37" font-size="3.2" text-anchor="end" font-weight="bold" stroke="#000" stroke-width="0.3" transform="rotate(0.1 13.90 81.25)">0.95</text>
<text x="13.90" y="93.72" font-size="3.2" text-anchor="end" font-weight="bold" stroke="#000" stroke-width="0.3" transform="rotate(0.1 13.90 92.60)">0.90</text>
<text x="13.90" y="105.22" font-size="3.2" text-anchor="end" font-weight="bold" stroke="#000" stroke-width="0.3" transform="rotate(0.1 13.90 104.10)">0.85</text>
<text x="13.90" y="116.52" font-size="3.2" text-anchor="end" font-weight="bold" stroke="#000" stroke-width="0.3" transform="rotate(0.1 13.90 115.40)">0.80</text>
<text x="35.80" y="121.16" font-size="3.3" text-anchor="middle" font-weight="bold" stroke="#000" stroke-width="0.3" transform="rotate(0.1 35.80 120.00)">F</text>
<text x="67.75" y="121.16" font-size="3.3" text-anchor="middle" font-weight="bold" stroke="#000" stroke-width="0.3" transform="rotate(0.1 67.75 120.00)">M</text>
<text x="51.90" y="70.05" font-size="2.85" text-anchor="middle" font-weight="bold" stroke="#000" stroke-width="0.2" transform="rotate(0.1 51.90 69.05)">OTU p=0.205 (anova)</text>
<text x="3.50" y="95.76" font-size="3.6" text-anchor="middle" font-weight="bold" stroke="#000" stroke-width="0.35" transform="rotate(-90 3.50 94.50)">Simpson&#39;s Index</text>
<text x="113.20" y="77.72" font-size="3.2" text-anchor="end" font-weight="bold" stroke="#000" stroke-width="0.3" transform="rotate(0.1 113.20 76.60)">40</text>
<text x="113.20" y="83.02" font-size="3.2" text-anchor="end" font-weight="bold" stroke="#000" stroke-width="0.3" transform="rotate(0.1 113.20 81.90)">35</text>
<text x="113.20" y="88.62" font-size="3.2" text-anchor="end" font-weight="bold" stroke="#000" stroke-width="0.3" transform="rotate(0.1 113.20 87.50)">30</text>
<text x="113.20" y="93.62" font-size="3.2" text-anchor="end" font-weight="bold" stroke="#000" stroke-width="0.3" transform="rotate(0.1 113.20 92.50)">25</text>
<text x="113.20" y="99.37" font-size="3.2" text-anchor="end" font-weight="bold" stroke="#000" stroke-width="0.3" transform="rotate(0.1 113.20 98.25)">20</text>
<text x="113.20" y="104.87" font-size="3.2" text-anchor="end" font-weight="bold" stroke="#000" stroke-width="0.3" transform="rotate(0.1 113.20 103.75)">15</text>
<text x="113.20" y="110.22" font-size="3.2" text-anchor="end" font-weight="bold" stroke="#000" stroke-width="0.3" transform="rotate(0.1 113.20 109.10)">10</text>
<text x="113.20" y="115.87" font-size="3.2" text-anchor="end" font-weight="bold" stroke="#000" stroke-width="0.3" transform="rotate(0.1 113.20 114.75)">5</text>
<text x="135.09" y="120.95" font-size="3.3" text-anchor="middle" font-weight="bold" stroke="#000" stroke-width="0.3" transform="rotate(0.1 135.09 119.80)">F</text>
<text x="166.81" y="121.16" font-size="3.3" text-anchor="middle" font-weight="bold" stroke="#000" stroke-width="0.3" transform="rotate(0.1 166.81 120.00)">M</text>
<text x="150.50" y="70.30" font-size="2.85" text-anchor="middle" font-weight="bold" stroke="#000" stroke-width="0.2" transform="rotate(0.1 150.50 69.30)">OTU p=0.106 (anova)</text>
<text x="103.10" y="95.26" font-size="3.6" text-anchor="middle" font-weight="bold" stroke="#000" stroke-width="0.35" transform="rotate(-90 103.10 94.00)">Inverse Simpson&#39;s</text>
<text x="218.45" y="81.12" font-size="3.2" text-anchor="end" font-weight="bold" stroke="#000" stroke-width="0.3" transform="rotate(0.1 218.45 80.00)">0.95</text>
<text x="218.45" y="92.37" font-size="3.2" text-anchor="end" font-weight="bold" stroke="#000" stroke-width="0.3" transform="rotate(0.1 218.45 91.25)">0.90</text>
<text x="218.45" y="103.62" font-size="3.2" text-anchor="end" font-weight="bold" stroke="#000" stroke-width="0.3" transform="rotate(0.1 218.45 102.50)">0.85</text>
<text x="218.45" y="115.02" font-size="3.2" text-anchor="end" font-weight="bold" stroke="#000" stroke-width="0.3" transform="rotate(0.1 218.45 113.90)">0.80</text>
<text x="240.72" y="120.25" font-size="3.3" text-anchor="middle" font-weight="bold" stroke="#000" stroke-width="0.3" transform="rotate(0.1 240.72 119.10)">A</text>
<text x="273.41" y="120.25" font-size="3.3" text-anchor="middle" font-weight="bold" stroke="#000" stroke-width="0.3" transform="rotate(0.1 273.41 119.10)">N</text>
<text x="256.25" y="68.20" font-size="2.85" text-anchor="middle" font-weight="bold" stroke="#000" stroke-width="0.2" transform="rotate(0.1 256.25 67.20)">OTU p=0.743 (anova)</text>
<text x="208.60" y="94.26" font-size="3.6" text-anchor="middle" font-weight="bold" stroke="#000" stroke-width="0.35" transform="rotate(-90 208.60 93.00)">Simpson&#39;s Index</text>
<text x="323.60" y="75.87" font-size="3.2" text-anchor="end" font-weight="bold" stroke="#000" stroke-width="0.3" transform="rotate(0.1 323.60 74.75)">40</text>
<text x="323.60" y="81.72" font-size="3.2" text-anchor="end" font-weight="bold" stroke="#000" stroke-width="0.3" transform="rotate(0.1 323.60 80.60)">35</text>
<text x="323.60" y="87.12" font-size="3.2" text-anchor="end" font-weight="bold" stroke="#000" stroke-width="0.3" transform="rotate(0.1 323.60 86.00)">30</text>
<text x="323.60" y="92.62" font-size="3.2" text-anchor="end" font-weight="bold" stroke="#000" stroke-width="0.3" transform="rotate(0.1 323.60 91.50)">25</text>
<text x="323.60" y="98.12" font-size="3.2" text-anchor="end" font-weight="bold" stroke="#000" stroke-width="0.3" transform="rotate(0.1 323.60 97.00)">20</text>
<text x="323.60" y="103.62" font-size="3.2" text-anchor="end" font-weight="bold" stroke="#000" stroke-width="0.3" transform="rotate(0.1 323.60 102.50)">15</text>
<text x="323.60" y="109.22" font-size="3.2" text-anchor="end" font-weight="bold" stroke="#000" stroke-width="0.3" transform="rotate(0.1 323.60 108.10)">10</text>
<text x="323.60" y="114.87" font-size="3.2" text-anchor="end" font-weight="bold" stroke="#000" stroke-width="0.3" transform="rotate(0.1 323.60 113.75)">5</text>
<text x="345.99" y="120.66" font-size="3.3" text-anchor="middle" font-weight="bold" stroke="#000" stroke-width="0.3" transform="rotate(0.1 345.99 119.50)">A</text>
<text x="378.68" y="120.66" font-size="3.3" text-anchor="middle" font-weight="bold" stroke="#000" stroke-width="0.3" transform="rotate(0.1 378.68 119.50)">N</text>
<text x="362.00" y="68.05" font-size="2.85" text-anchor="middle" font-weight="bold" stroke="#000" stroke-width="0.2" transform="rotate(0.1 362.00 67.05)">OTU p=0.981 (anova)</text>
<text x="313.90" y="94.26" font-size="3.6" text-anchor="middle" font-weight="bold" stroke="#000" stroke-width="0.35" transform="rotate(-90 313.90 93.00)">Inverse Simpson&#39;s</text>
<text x="14.10" y="141.22" font-size="3.2" text-anchor="end" font-weight="bold" stroke="#000" stroke-width="0.3" transform="rotate(0.1 14.10 140.10)">1400</text>
<text x="14.10" y="150.02" font-size="3.2" text-anchor="end" font-weight="bold" stroke="#000" stroke-width="0.3" transform="rotate(0.1 14.10 148.90)">1200</text>
<text x="14.10" y="158.52" font-size="3.2" text-anchor="end" font-weight="bold" stroke="#000" stroke-width="0.3" transform="rotate(0.1 14.10 157.40)">1000</text>
<text x="14.10" y="167.22" font-size="3.2" text-anchor="end" font-weight="bold" stroke="#000" stroke-width="0.3" transform="rotate(0.1 14.10 166.10)">800</text>
<text x="14.10" y="176.02" font-size="3.2" text-anchor="end" font-weight="bold" stroke="#000" stroke-width="0.3" transform="rotate(0.1 14.10 174.90)">600</text>
<text x="35.91" y="184.96" font-size="3.3" text-anchor="middle" font-weight="bold" stroke="#000" stroke-width="0.3" transform="rotate(0.1 35.91 183.80)">NSD</text>
<text x="68.13" y="185.16" font-size="3.3" text-anchor="middle" font-weight="bold" stroke="#000" stroke-width="0.3" transform="rotate(0.1 68.13 184.00)">SD</text>
<text x="51.50" y="133.70" font-size="2.85" text-anchor="middle" font-weight="bold" stroke="#000" stroke-width="0.2" transform="rotate(0.1 51.50 132.70)">OTU p=0.403 (anova)</text>
<text x="3.10" y="160.01" font-size="3.6" text-anchor="middle" font-weight="bold" stroke="#000" stroke-width="0.35" transform="rotate(-90 3.10 158.75)">Chao1</text>
<text x="113.50" y="148.37" font-size="3.2" text-anchor="end" font-weight="bold" stroke="#000" stroke-width="0.3" transform="rotate(0.1 113.50 147.25)">4.0</text>
<text x="113.50" y="159.72" font-size="3.2" text-anchor="end" font-weight="bold" stroke="#000" stroke-width="0.3" transform="rotate(0.1 113.50 158.60)">3.5</text>
<text x="113.50" y="171.02" font-size="3.2" text-anchor="end" font-weight="bold" stroke="#000" stroke-width="0.3" transform="rotate(0.1 113.50 169.90)">3.0</text>
<text x="135.96" y="184.75" font-size="3.3" text-anchor="middle" font-weight="bold" stroke="#000" stroke-width="0.3" transform="rotate(0.1 135.96 183.60)">NSD</text>
<text x="167.75" y="184.75" font-size="3.3" text-anchor="middle" font-weight="bold" stroke="#000" stroke-width="0.3" transform="rotate(0.1 167.75 183.60)">SD</text>
<text x="151.00" y="133.80" font-size="2.85" text-anchor="middle" font-weight="bold" stroke="#000" stroke-width="0.2" transform="rotate(0.1 151.00 132.80)">OTU p=0.386 (anova)</text>
<text x="103.10" y="157.56" font-size="3.6" text-anchor="middle" font-weight="bold" stroke="#000" stroke-width="0.35" transform="rotate(-90 103.10 156.30)">Shannon Index</text>
<text x="218.90" y="138.02" font-size="3.2" text-anchor="end" font-weight="bold" stroke="#000" stroke-width="0.3" transform="rotate(0.1 218.90 136.90)">4.5</text>
<text x="218.90" y="145.97" font-size="3.2" text-anchor="end" font-weight="bold" stroke="#000" stroke-width="0.3" transform="rotate(0.1 218.90 144.85)">4.0</text>
<text x="218.90" y="153.92" font-size="3.2" text-anchor="end" font-weight="bold" stroke="#000" stroke-width="0.3" transform="rotate(0.1 218.90 152.80)">3.5</text>
<text x="218.90" y="161.87" font-size="3.2" text-anchor="end" font-weight="bold" stroke="#000" stroke-width="0.3" transform="rotate(0.1 218.90 160.75)">3.0</text>
<text x="218.90" y="169.82" font-size="3.2" text-anchor="end" font-weight="bold" stroke="#000" stroke-width="0.3" transform="rotate(0.1 218.90 168.70)">2.5</text>
<text x="218.90" y="177.77" font-size="3.2" text-anchor="end" font-weight="bold" stroke="#000" stroke-width="0.3" transform="rotate(0.1 218.90 176.65)">2.0</text>
<text x="241.43" y="184.16" font-size="3.3" text-anchor="middle" font-weight="bold" stroke="#000" stroke-width="0.3" transform="rotate(0.1 241.43 183.00)">C</text>
<text x="273.35" y="184.16" font-size="3.3" text-anchor="middle" font-weight="bold" stroke="#000" stroke-width="0.3" transform="rotate(0.1 273.35 183.00)">E</text>
<text x="257.00" y="132.55" font-size="2.85" text-anchor="middle" font-weight="bold" stroke="#000" stroke-width="0.2" transform="rotate(0.1 257.00 131.55)">OTU p=0.0008 (anova)</text>
<text x="208.80" y="161.26" font-size="3.6" text-anchor="middle" font-weight="bold" stroke="#000" stroke-width="0.35" transform="rotate(-90 208.80 160.00)">Shannon Index</text>
<text x="324.30" y="141.87" font-size="3.2" text-anchor="end" font-weight="bold" stroke="#000" stroke-width="0.3" transform="rotate(0.1 324.30 140.75)">1400</text>
<text x="324.30" y="148.12" font-size="3.2" text-anchor="end" font-weight="bold" stroke="#000" stroke-width="0.3" transform="rotate(0.1 324.30 147.00)">1200</text>
<text x="324.30" y="154.37" font-size="3.2" text-anchor="end" font-weight="bold" stroke="#000" stroke-width="0.3" transform="rotate(0.1 324.30 153.25)">1000</text>
<text x="324.30" y="160.37" font-size="3.2" text-anchor="end" font-weight="bold" stroke="#000" stroke-width="0.3" transform="rotate(0.1 324.30 159.25)">800</text>
<text x="324.30" y="166.62" font-size="3.2" text-anchor="end" font-weight="bold" stroke="#000" stroke-width="0.3" transform="rotate(0.1 324.30 165.50)">600</text>
<text x="324.30" y="172.87" font-size="3.2" text-anchor="end" font-weight="bold" stroke="#000" stroke-width="0.3" transform="rotate(0.1 324.30 171.75)">400</text>
<text x="324.30" y="179.12" font-size="3.2" text-anchor="end" font-weight="bold" stroke="#000" stroke-width="0.3" transform="rotate(0.1 324.30 178.00)">200</text>
<text x="346.49" y="184.16" font-size="3.3" text-anchor="middle" font-weight="bold" stroke="#000" stroke-width="0.3" transform="rotate(0.1 346.49 183.00)">C</text>
<text x="378.68" y="184.16" font-size="3.3" text-anchor="middle" font-weight="bold" stroke="#000" stroke-width="0.3" transform="rotate(0.1 378.68 183.00)">E</text>
<text x="362.00" y="132.55" font-size="2.85" text-anchor="middle" font-weight="bold" stroke="#000" stroke-width="0.2" transform="rotate(0.1 362.00 131.55)">OTU p=0.0064 (anova)</text>
<text x="314.10" y="159.76" font-size="3.6" text-anchor="middle" font-weight="bold" stroke="#000" stroke-width="0.35" transform="rotate(-90 314.10 158.50)">Chao1</text>
<text x="13.40" y="209.42" font-size="3.2" text-anchor="end" font-weight="bold" stroke="#000" stroke-width="0.3" transform="rotate(0.1 13.40 208.30)">0.95</text>
<text x="13.40" y="220.72" font-size="3.2" text-anchor="end" font-weight="bold" stroke="#000" stroke-width="0.3" transform="rotate(0.1 13.40 219.60)">0.90</text>
<text x="13.40" y="232.02" font-size="3.2" text-anchor="end" font-weight="bold" stroke="#000" stroke-width="0.3" transform="rotate(0.1 13.40 230.90)">0.85</text>
<text x="13.40" y="243.32" font-size="3.2" text-anchor="end" font-weight="bold" stroke="#000" stroke-width="0.3" transform="rotate(0.1 13.40 242.20)">0.80</text>
<text x="35.42" y="247.75" font-size="3.3" text-anchor="middle" font-weight="bold" stroke="#000" stroke-width="0.3" transform="rotate(0.1 35.42 246.60)">NSD</text>
<text x="66.47" y="247.91" font-size="3.3" text-anchor="middle" font-weight="bold" stroke="#000" stroke-width="0.3" transform="rotate(0.1 66.47 246.75)">SD</text>
<text x="50.00" y="196.90" font-size="2.85" text-anchor="middle" font-weight="bold" stroke="#000" stroke-width="0.2" transform="rotate(0.1 50.00 195.90)">OTU p=0.247 (anova)</text>
<text x="2.80" y="222.26" font-size="3.6" text-anchor="middle" font-weight="bold" stroke="#000" stroke-width="0.35" transform="rotate(-90 2.80 221.00)">Simpson&#39;s Index</text>
<text x="117.00" y="204.87" font-size="3.2" text-anchor="end" font-weight="bold" stroke="#000" stroke-width="0.3" transform="rotate(0.1 117.00 203.75)">40</text>
<text x="117.00" y="210.62" font-size="3.2" text-anchor="end" font-weight="bold" stroke="#000" stroke-width="0.3" transform="rotate(0.1 117.00 209.50)">35</text>
<text x="117.00" y="215.87" font-size="3.2" text-anchor="end" font-weight="bold" stroke="#000" stroke-width="0.3" transform="rotate(0.1 117.00 214.75)">30</text>
<text x="117.00" y="221.12" font-size="3.2" text-anchor="end" font-weight="bold" stroke="#000" stroke-width="0.3" transform="rotate(0.1 117.00 220.00)">25</text>
<text x="117.00" y="226.22" font-size="3.2" text-anchor="end" font-weight="bold" stroke="#000" stroke-width="0.3" transform="rotate(0.1 117.00 225.10)">20</text>
<text x="117.00" y="232.12" font-size="3.2" text-anchor="end" font-weight="bold" stroke="#000" stroke-width="0.3" transform="rotate(0.1 117.00 231.00)">15</text>
<text x="117.00" y="237.87" font-size="3.2" text-anchor="end" font-weight="bold" stroke="#000" stroke-width="0.3" transform="rotate(0.1 117.00 236.75)">10</text>
<text x="117.00" y="243.12" font-size="3.2" text-anchor="end" font-weight="bold" stroke="#000" stroke-width="0.3" transform="rotate(0.1 117.00 242.00)">5</text>
<text x="139.04" y="248.41" font-size="3.3" text-anchor="middle" font-weight="bold" stroke="#000" stroke-width="0.3" transform="rotate(0.1 139.04 247.25)">NSD</text>
<text x="170.55" y="248.41" font-size="3.3" text-anchor="middle" font-weight="bold" stroke="#000" stroke-width="0.3" transform="rotate(0.1 170.55 247.25)">SD</text>
<text x="154.25" y="197.30" font-size="2.85" text-anchor="middle" font-weight="bold" stroke="#000" stroke-width="0.2" transform="rotate(0.1 154.25 196.30)">OTU p=0.416 (anova)</text>
<text x="107.00" y="222.26" font-size="3.6" text-anchor="middle" font-weight="bold" stroke="#000" stroke-width="0.35" transform="rotate(-90 107.00 221.00)">Inverse Simpson&#39;s</text>
<text x="218.45" y="211.12" font-size="3.2" text-anchor="end" font-weight="bold" stroke="#000" stroke-width="0.3" transform="rotate(0.1 218.45 210.00)">0.9</text>
<text x="218.45" y="221.37" font-size="3.2" text-anchor="end" font-weight="bold" stroke="#000" stroke-width="0.3" transform="rotate(0.1 218.45 220.25)">0.8</text>
<text x="218.45" y="231.62" font-size="3.2" text-anchor="end" font-weight="bold" stroke="#000" stroke-width="0.3" transform="rotate(0.1 218.45 230.50)">0.7</text>
<text x="218.45" y="241.87" font-size="3.2" text-anchor="end" font-weight="bold" stroke="#000" stroke-width="0.3" transform="rotate(0.1 218.45 240.75)">0.6</text>
<text x="240.85" y="248.75" font-size="3.3" text-anchor="middle" font-weight="bold" stroke="#000" stroke-width="0.3" transform="rotate(0.1 240.85 247.60)">C</text>
<text x="272.88" y="248.41" font-size="3.3" text-anchor="middle" font-weight="bold" stroke="#000" stroke-width="0.3" transform="rotate(0.1 272.88 247.25)">E</text>
<text x="256.40" y="196.90" font-size="2.85" text-anchor="middle" font-weight="bold" stroke="#000" stroke-width="0.2" transform="rotate(0.1 256.40 195.90)">OTU p=0.0094 (anova)</text>
<text x="208.60" y="222.26" font-size="3.6" text-anchor="middle" font-weight="bold" stroke="#000" stroke-width="0.35" transform="rotate(-90 208.60 221.00)">Simpson&#39;s Index</text>
<text x="324.30" y="204.37" font-size="3.2" text-anchor="end" font-weight="bold" stroke="#000" stroke-width="0.3" transform="rotate(0.1 324.30 203.25)">40</text>
<text x="324.30" y="214.62" font-size="3.2" text-anchor="end" font-weight="bold" stroke="#000" stroke-width="0.3" transform="rotate(0.1 324.30 213.50)">30</text>
<text x="324.30" y="225.02" font-size="3.2" text-anchor="end" font-weight="bold" stroke="#000" stroke-width="0.3" transform="rotate(0.1 324.30 223.90)">20</text>
<text x="324.30" y="235.37" font-size="3.2" text-anchor="end" font-weight="bold" stroke="#000" stroke-width="0.3" transform="rotate(0.1 324.30 234.25)">10</text>
<text x="346.48" y="248.75" font-size="3.3" text-anchor="middle" font-weight="bold" stroke="#000" stroke-width="0.3" transform="rotate(0.1 346.48 247.60)">C</text>
<text x="378.93" y="248.16" font-size="3.3" text-anchor="middle" font-weight="bold" stroke="#000" stroke-width="0.3" transform="rotate(0.1 378.93 247.00)">E</text>
<text x="363.00" y="196.90" font-size="2.85" text-anchor="middle" font-weight="bold" stroke="#000" stroke-width="0.2" transform="rotate(0.1 363.00 195.90)">OTU p=0.0619 (anova)</text>
<text x="313.10" y="222.76" font-size="3.6" text-anchor="middle" font-weight="bold" stroke="#000" stroke-width="0.35" transform="rotate(-90 313.10 221.50)">Inverse Simpson&#39;s</text>
</svg></body></html>
